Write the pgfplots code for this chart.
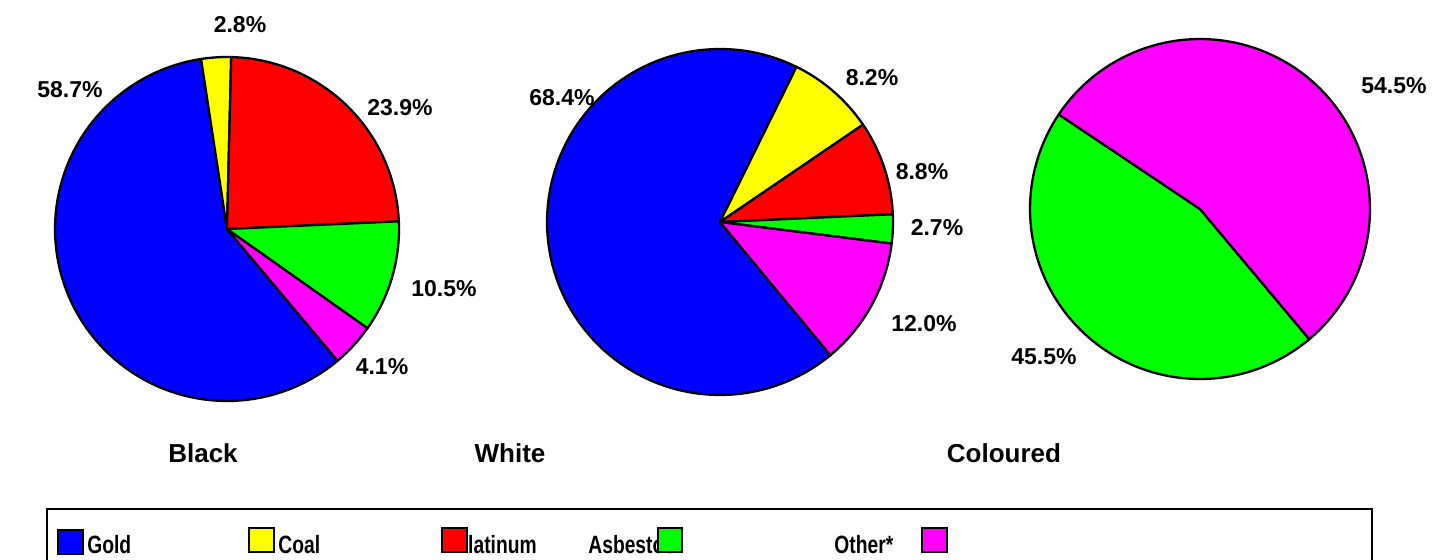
\documentclass[border=0pt]{standalone}
\usepackage{pgfplots}
\pgfplotsset{compat=1.18}
\usepackage{pgfplotstable}
\usepackage{graphicx}
\usepackage{fontspec}
\setmainfont{Liberation Sans}

\definecolor{pblue}{RGB}{0,0,255}
\definecolor{pyellow}{RGB}{255,255,0}
\definecolor{pred}{RGB}{255,0,0}
\definecolor{pgreen}{RGB}{0,255,0}
\definecolor{pmag}{RGB}{255,0,255}

\pgfplotstableread{
pct color
58.7 pblue
2.8 pyellow
23.9 pred
10.5 pgreen
4.1 pmag
}\blackdata
\pgfplotstableread{
pct color
68.4 pblue
8.2 pyellow
8.8 pred
2.7 pgreen
12.0 pmag
}\whitedata
\pgfplotstableread{
pct color
45.5 pgreen
54.5 pmag
}\coloureddata

\newcommand{\drawpie}[1]{%
  \pgfplotstablegetrowsof{#1}%
  \pgfmathtruncatemacro\nrows{\pgfplotsretval-1}%
  \def\startang{-50}%
  \pgfplotsforeachungrouped \i in {0,...,\nrows}{%
    \pgfplotstablegetelem{\i}{pct}\of{#1}\let\pctval\pgfplotsretval
    \pgfplotstablegetelem{\i}{color}\of{#1}\let\slicecol\pgfplotsretval
    \pgfmathsetmacro\endang{\startang-3.6*\pctval}%
    \edef\temp{\noexpand\addplot[fill=\slicecol, draw=black, line width=1.15pt, line join=round, domain=\endang:\startang, samples=90] ({cos(x)},{sin(x)}) -- (0,0) -- cycle;}%
    \temp
    \let\startang\endang
  }%
}

\pgfplotsset{pieaxis/.style={hide axis, scale only axis, xmin=-1, xmax=1, ymin=-1, ymax=1, clip=false, anchor=center}}

\begin{document}
\begin{tikzpicture}
\useasboundingbox (0pt,0pt) rectangle (720pt,279.5pt);

\begin{axis}[pieaxis, at={(113.5pt,165pt)}, width=172pt, height=172pt]
\drawpie{\blackdata}
\end{axis}
\begin{axis}[pieaxis, at={(360pt,168.5pt)}, width=173pt, height=173pt]
\drawpie{\whitedata}
\end{axis}
\begin{axis}[pieaxis, at={(600pt,175pt)}, width=170pt, height=170pt]
\drawpie{\coloureddata}
\end{axis}

\begin{scope}[every node/.style={font=\fontsize{11.5}{13}\selectfont\bfseries, inner sep=0pt}]
\node at (35pt,234.5pt) {58.7\%};
\node at (120pt,267pt) {2.8\%};
\node at (200pt,225.5pt) {23.9\%};
\node at (222pt,135pt) {10.5\%};
\node at (191pt,96pt) {4.1\%};
\node at (281pt,230.5pt) {68.4\%};
\node at (436pt,240.5pt) {8.2\%};
\node at (461pt,193.5pt) {8.8\%};
\node at (468.5pt,165.5pt) {2.7\%};
\node at (462pt,117.5pt) {12.0\%};
\node at (697pt,236.5pt) {54.5\%};
\node at (522pt,101pt) {45.5\%};
\end{scope}

\begin{scope}[every node/.style={font=\fontsize{13}{15}\selectfont\bfseries, inner sep=0pt}]
\node at (101.5pt,53pt) {Black};
\node at (255pt,53pt) {White};
\node at (502pt,53pt) {Coloured};
\end{scope}

% legend
\draw[line width=1.25pt] (23.5pt,-5pt) rectangle (686pt,25pt);
\begin{scope}[every node/.style={font=\fontsize{12.5}{14}\selectfont\bfseries, inner sep=0pt, anchor=base west}]
\node at (43.5pt,3pt) {\scalebox{0.77}[1]{Gold}};
\node at (139pt,3pt) {\scalebox{0.77}[1]{Coal}};
\node at (227.5pt,3pt) {\scalebox{0.77}[1]{Platinum}};
\node at (294pt,3pt) {\scalebox{0.77}[1]{Asbestos}};
\node at (417pt,3pt) {\scalebox{0.77}[1]{Other*}};
\end{scope}
\draw[line width=0.75pt, fill=pblue] (29pt,2.5pt) rectangle (41.5pt,14.5pt);
\draw[line width=0.75pt, fill=pyellow] (124.5pt,3.5pt) rectangle (137pt,15.5pt);
\draw[line width=0.75pt, fill=pred] (221pt,3.5pt) rectangle (233.5pt,15.5pt);
\draw[line width=0.75pt, fill=pgreen] (329pt,3.5pt) rectangle (341pt,15.5pt);
\draw[line width=0.75pt, fill=pmag] (461pt,3.5pt) rectangle (473.5pt,15.5pt);
\end{tikzpicture}
\end{document}
